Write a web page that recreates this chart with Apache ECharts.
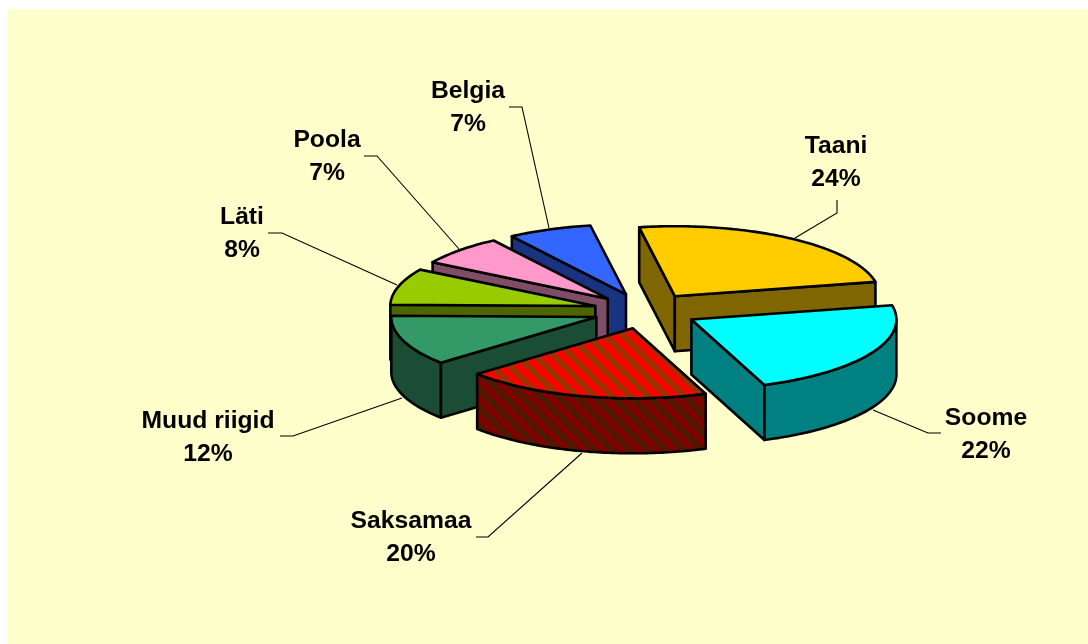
<!DOCTYPE html>
<html>
<head>
<meta charset="utf-8">
<style>
  html, body { margin: 0; padding: 0; background: #fff; }
  #chart { width: 1088px; height: 644px; }
</style>
<script src="https://cdn.jsdelivr.net/npm/echarts@6/dist/echarts.min.js"></script>
</head>
<body>
<div id="chart"></div>
<script>
// shares, the labels show them rounded
const countries = ['Taani', 'Soome', 'Saksamaa', 'Muud riigid', 'Läti', 'Poola', 'Belgia']
const shares = [24.49, 22.49, 19.5, 11.6, 8.4, 6.9, 6.62]

// back to front, as the slices overlap each other
const drawOrder = ['Belgia', 'Poola', 'Läti', 'Muud riigid', 'Taani', 'Soome', 'Saksamaa']

const faceColors = ['#FFCC00', '#00FFFF', '#FF0000', '#339966', '#99CC00', '#FF99CC', '#3366FF']
const wallColors = ['#806600', '#008080', '#800000', '#1A4D33', '#4D6600', '#804D66', '#1A3380']

// label centre, then leader line: free end, elbow, end at the pie
const labelLayout = {
  'Taani': { at: [836, 163], line: [[837, 200], [837, 213], [795, 238]] },
  'Soome': { at: [986, 435], line: [[941, 433], [928, 433], [873, 410]] },
  'Saksamaa': { at: [411, 538], line: [[476, 537], [488, 537], [582, 453]] },
  'Muud riigid': { at: [208, 438], line: [[280, 436], [293, 436], [402, 398]] },
  'Läti': { at: [242, 234], line: [[268, 233], [282, 233], [397, 285]] },
  'Poola': { at: [327, 157], line: [[364, 156], [377, 156], [459, 249]] },
  'Belgia': { at: [468, 108], line: [[509, 107], [522, 107], [549, 228]] }
}

const pie = { cx: 645.5, cy: 311, rx: 205, ry: 70, depth: 55, explode: 0.255, startAngle: -10 }

function stripes(base, stripe) {
  const c = document.createElement('canvas')
  c.width = 18
  c.height = 18
  const g = c.getContext('2d')
  g.fillStyle = base
  g.fillRect(0, 0, 18, 18)
  g.strokeStyle = stripe
  g.lineWidth = 6
  for (let k = -1; k <= 1; k++) {
    g.beginPath()
    g.moveTo(-4, -4 + k * 18)
    g.lineTo(22, 22 + k * 18)
    g.stroke()
  }
  return { image: c, repeat: 'repeat' }
}

const total = shares.reduce((a, b) => a + b, 0)
const slices = []
let angle = pie.startAngle
countries.forEach((name, i) => {
  const span = shares[i] / total * 360
  const mid = (angle + span / 2) * Math.PI / 180
  let face = faceColors[i]
  let wall = wallColors[i]
  if (name === 'Saksamaa') {
    face = stripes('#FF0000', '#993300')
    wall = stripes('#800000', '#4D1A00')
  }
  slices.push({
    name: name,
    value: shares[i],
    from: angle,
    to: angle + span,
    ax: pie.cx + pie.explode * pie.rx * Math.sin(mid),
    ay: pie.cy - pie.explode * pie.ry * Math.cos(mid),
    face: face,
    wall: wall
  })
  angle += span
})
slices.sort((a, b) => drawOrder.indexOf(a.name) - drawOrder.indexOf(b.name))

function rimPoint(s, deg, drop) {
  const r = deg * Math.PI / 180
  return [s.ax + pie.rx * Math.sin(r), s.ay - pie.ry * Math.cos(r) + drop]
}

function arcPoints(s, from, to, drop) {
  const pts = []
  const n = Math.max(2, Math.ceil(to - from))
  for (let i = 0; i <= n; i++) {
    pts.push(rimPoint(s, from + (to - from) * i / n, drop))
  }
  return pts
}

function poly(points, fill) {
  return {
    type: 'polygon',
    shape: { points: points },
    style: { fill: fill, stroke: '#000', lineWidth: 2.6, lineJoin: 'round' }
  }
}

// a flat side only shows when its outward normal points at the viewer
function facesViewer(deg) {
  return Math.cos(deg * Math.PI / 180) < 0
}

function radialWall(s, deg) {
  const apex = [s.ax, s.ay]
  const rim = rimPoint(s, deg, 0)
  return poly([apex, rim, [rim[0], rim[1] + pie.depth], [apex[0], apex[1] + pie.depth]], s.wall)
}

function renderSlice(params) {
  const s = slices[params.dataIndex]
  const children = []
  const layout = labelLayout[s.name]

  children.push({
    type: 'polyline',
    shape: { points: layout.line },
    style: { fill: null, stroke: '#000', lineWidth: 1.1 }
  })

  if (facesViewer(s.from - 90)) children.push(radialWall(s, s.from))
  if (facesViewer(s.to + 90)) children.push(radialWall(s, s.to))

  const wallFrom = Math.max(s.from, 90)
  const wallTo = Math.min(s.to, 270)
  if (wallTo > wallFrom) {
    const top = arcPoints(s, wallFrom, wallTo, 0)
    const bottom = arcPoints(s, wallFrom, wallTo, pie.depth).reverse()
    children.push(poly(top.concat(bottom), s.wall))
  }

  children.push(poly([[s.ax, s.ay]].concat(arcPoints(s, s.from, s.to, 0)), s.face))

  children.push({
    type: 'text',
    style: {
      x: layout.at[0],
      y: layout.at[1],
      text: s.name + '\n' + Math.round(s.value) + '%',
      align: 'center',
      verticalAlign: 'middle',
      fontFamily: '"Liberation Sans", Arial, sans-serif',
      fontWeight: 'bold',
      fontSize: 24.7,
      lineHeight: 33,
      fill: '#000'
    }
  })

  return { type: 'group', children: children }
}

const chart = echarts.init(document.getElementById('chart'))
chart.setOption({
  animation: false,
  backgroundColor: '#fff',
  graphic: [{
    type: 'rect',
    silent: true,
    shape: { x: 8, y: 9, width: 1080, height: 635 },
    style: { fill: '#FFFFCC' }
  }],
  series: [{
    type: 'custom',
    coordinateSystem: 'none',
    silent: true,
    renderItem: renderSlice,
    data: slices.map(s => [s.value])
  }]
})
</script>
</body>
</html>
